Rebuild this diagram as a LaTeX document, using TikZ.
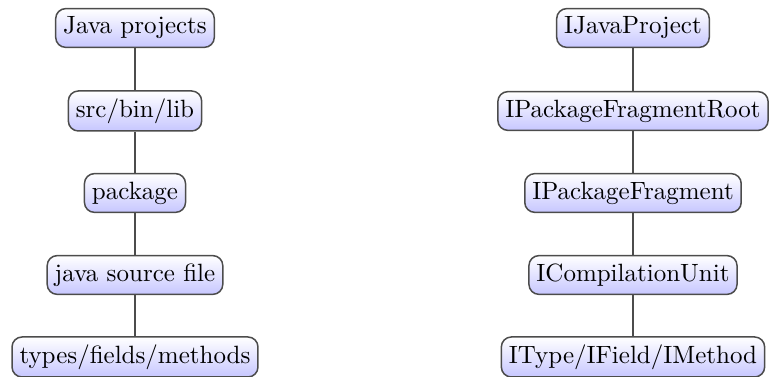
\documentclass[tikz,border=0pt]{standalone}
\begin{document}
\begin{tikzpicture}[x=0.4pt,y=-0.4pt,
  item/.style={draw=black!70, line width=0.6pt, rounded corners=4pt,
    top color=white, bottom color=blue!22, inner sep=3pt,
    minimum height=15.5pt},
  link/.style={draw=black!70, line width=0.6pt}]
\useasboundingbox (0,0) rectangle (769,377);
% left column: workspace view
\node[item] (a1) at (135,28)  {Java projects};
\node[item] (a2) at (135,111) {src/bin/lib};
\node[item] (a3) at (135,193) {package};
\node[item] (a4) at (135,275) {java source file};
\node[item] (a5) at (135,357) {types/fields/methods};
% right column: Java model elements
\node[item] (b1) at (633,28)  {IJavaProject};
\node[item] (b2) at (633,111) {IPackageFragmentRoot};
\node[item] (b3) at (633,193) {IPackageFragment};
\node[item] (b4) at (633,275) {ICompilationUnit};
\node[item] (b5) at (633,357) {IType/IField/IMethod};
\foreach \i/\j in {1/2,2/3,3/4,4/5}{
  \draw[link] (a\i) -- (a\j);
  \draw[link] (b\i) -- (b\j);
}
\end{tikzpicture}
\end{document}
